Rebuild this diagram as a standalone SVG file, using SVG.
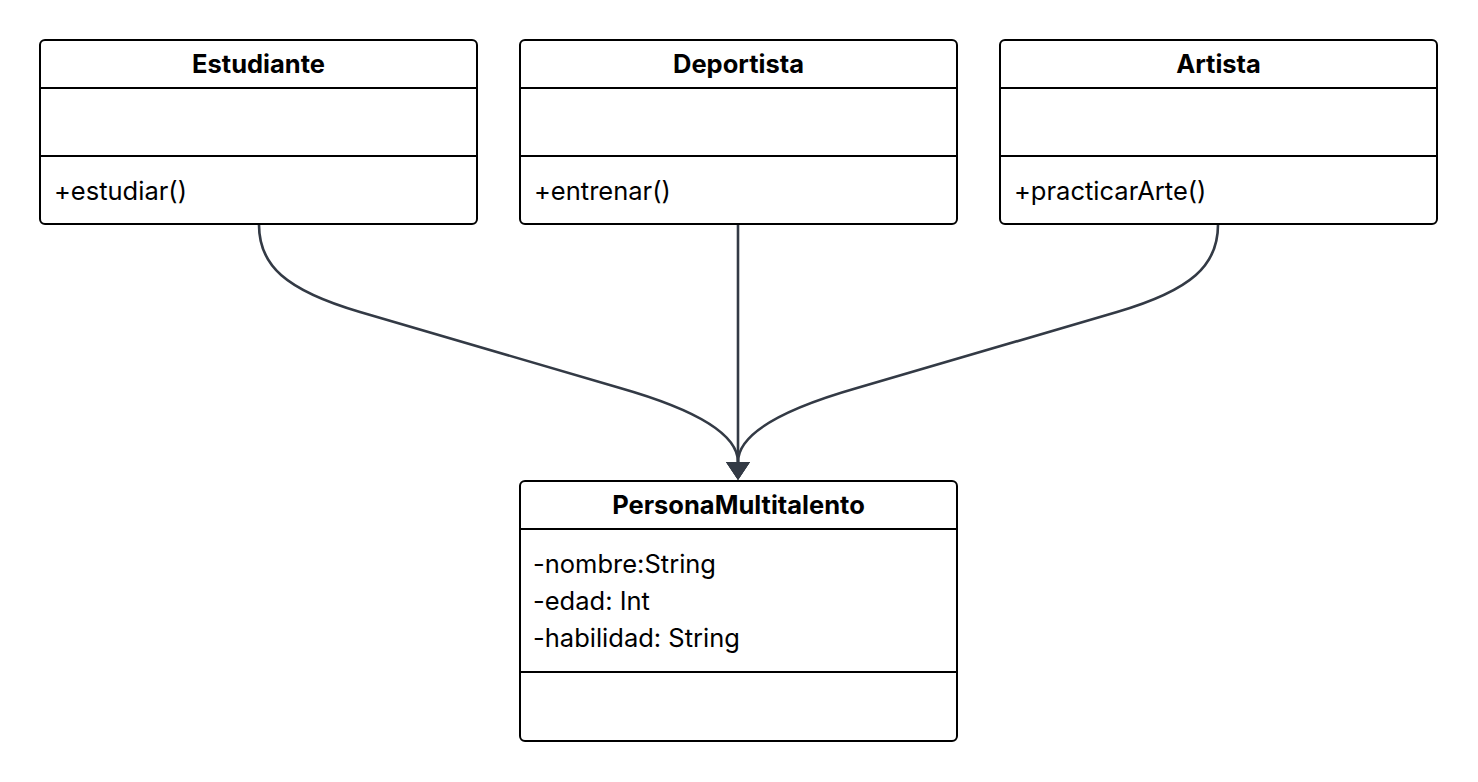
<svg xmlns="http://www.w3.org/2000/svg" width="1478" height="782" viewBox="0 0 1478 782">
<style>
.box{fill:#fff;stroke:#000;stroke-width:2}
.sep{stroke:#000;stroke-width:2}
.title{font-family:Inter,"Liberation Sans",sans-serif;font-weight:700;font-size:25.5px;fill:#000;text-anchor:middle}
.txt{font-family:Inter,"Liberation Sans",sans-serif;font-size:25.5px;fill:#000}
.edge{fill:none;stroke:#333a45;stroke-width:2.6}
</style>
<defs>
<marker id="arr" markerUnits="userSpaceOnUse" markerWidth="24" markerHeight="26" refX="0" refY="12" orient="auto" viewBox="0 0 24 26">
<path d="M0,0 L18,12 L0,24 z" fill="#333a45"/>
</marker>
</defs>
<rect width="1478" height="782" fill="#fff"/>
<g id="connectors">
<path class="edge" d="M259,225 C259,265 285,290 360,312 L620,388 C690,408 738,432 738,462" marker-end="url(#arr)"/>
<path class="edge" d="M738,225 L738,462" marker-end="url(#arr)"/>
<path class="edge" d="M1218,225 C1218,265 1192,290 1117,312 L857,388 C787,408 738,432 738,462" marker-end="url(#arr)"/>
</g>
<g id="Estudiante">
<rect class="box" x="40" y="40" width="437" height="184" rx="5"/>
<line class="sep" x1="40" y1="88" x2="477" y2="88"/>
<line class="sep" x1="40" y1="156" x2="477" y2="156"/>
<text class="title" x="258.5" y="73">Estudiante</text>
<text class="txt" x="54" y="200">+estudiar()</text>
</g>
<g id="Deportista">
<rect class="box" x="520" y="40" width="437" height="184" rx="5"/>
<line class="sep" x1="520" y1="88" x2="957" y2="88"/>
<line class="sep" x1="520" y1="156" x2="957" y2="156"/>
<text class="title" x="738.5" y="73">Deportista</text>
<text class="txt" x="534" y="200">+entrenar()</text>
</g>
<g id="Artista">
<rect class="box" x="1000" y="40" width="437" height="184" rx="5"/>
<line class="sep" x1="1000" y1="88" x2="1437" y2="88"/>
<line class="sep" x1="1000" y1="156" x2="1437" y2="156"/>
<text class="title" x="1218.5" y="73">Artista</text>
<text class="txt" x="1014" y="200">+practicarArte()</text>
</g>
<g id="PersonaMultitalento">
<rect class="box" x="520" y="481" width="437" height="260" rx="5"/>
<line class="sep" x1="520" y1="529" x2="957" y2="529"/>
<line class="sep" x1="520" y1="672" x2="957" y2="672"/>
<text class="title" x="738.5" y="514">PersonaMultitalento</text>
<text class="txt" x="533" y="573">-nombre:String</text>
<text class="txt" x="533" y="610">-edad: Int</text>
<text class="txt" x="533" y="647">-habilidad: String</text>
</g>
</svg>
